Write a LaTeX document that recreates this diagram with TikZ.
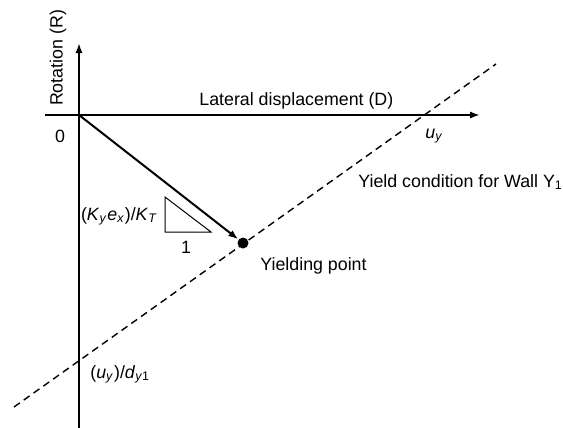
\documentclass[tikz,border=0pt]{standalone}
\usepackage{fontspec}
\setmainfont{Liberation Sans}
\usetikzlibrary{arrows.meta}
\begin{document}
\begin{tikzpicture}[x=0.5pt,y=-0.5pt,
  lbl/.style={font=\fontsize{8.9}{10.5}\selectfont, inner sep=0pt},
  axis/.style={line width=1pt, -{Latex[length=5pt,width=3.6pt]}},
  dashln/.style={line width=0.7pt, dash pattern=on 3.6pt off 2.4pt},
  tri/.style={line width=0.5pt}]
\useasboundingbox (0,0) rectangle (563,428);
% coordinates
\coordinate (O) at (79,115);
\coordinate (vb) at (79,428);
\coordinate (vt) at (79,43);
\coordinate (hl) at (45,115);
\coordinate (hr) at (480,115);
\coordinate (d1) at (14,407);
\coordinate (d2) at (496,64);
\coordinate (t1) at (165,197);
\coordinate (t2) at (165,232);
\coordinate (t3) at (211,232);
% axes
\draw[axis] (vb) -- (vt);
\draw[axis] (hl) -- (hr);
% yield line
\draw[dashln] (d1) -- (d2);
% yielding point
\node[circle, fill=black, inner sep=0pt, minimum size=5.5pt] (Y) at (243,243) {};
\draw[line width=1pt, -{Latex[length=5pt,width=3.6pt]}] (O) -- (Y);
% slope triangle
\draw[tri] (t1) -- (t2) -- (t3) -- cycle;
% labels
\node[lbl, rotate=90] (rot) at (58,58) {Rotation (R)};
\node[lbl, anchor=base west] (lat) at (199,105) {Lateral displacement (D)};
\node[lbl, anchor=base] (zero) at (60,142) {0};
\node[lbl, anchor=base west] (uy) at (425,138) {\textit{u}\textsubscript{\textit{y}}};
\node[lbl, anchor=base west] (yc) at (358,187) {Yield condition for Wall Y\textsubscript{1}};
\node[lbl, anchor=base west] (yp) at (260,270) {Yielding point};
\node[lbl, anchor=base east] (kt) at (158,220) {(\textit{K}\textsubscript{\textit{y}}\textit{e}\textsubscript{\textit{x}})/\textit{K}\textsubscript{\textit{T}}};
\node[lbl, anchor=base] (one) at (186,253) {1};
\node[lbl, anchor=base west] (ud) at (90,378) {(\textit{u}\textsubscript{\textit{y}})/\textit{d}\textsubscript{\textit{y}1}};
\end{tikzpicture}
\end{document}
